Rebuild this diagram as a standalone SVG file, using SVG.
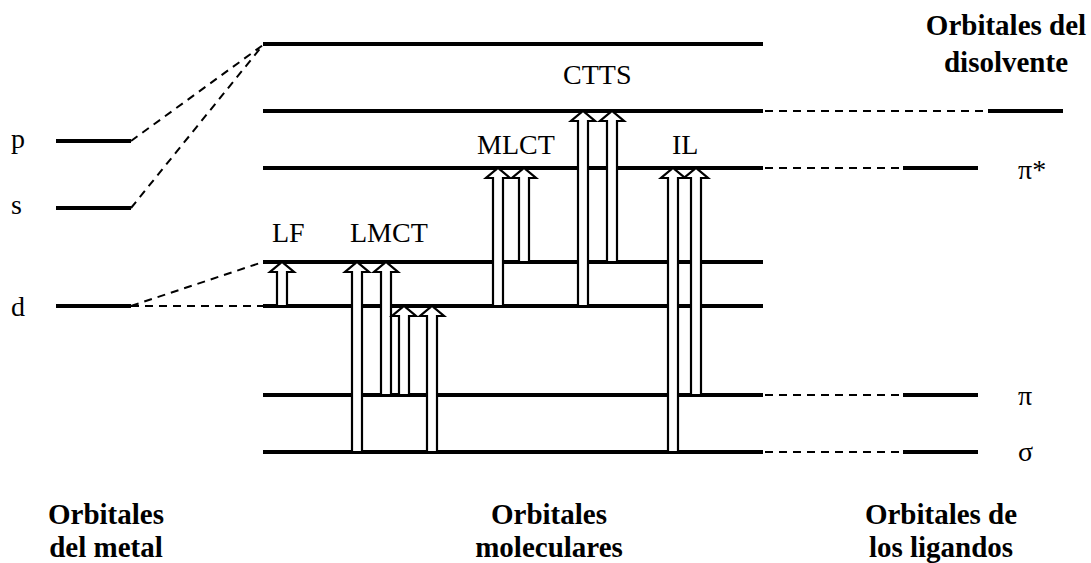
<svg xmlns="http://www.w3.org/2000/svg" width="1091" height="563" viewBox="0 0 1091 563">
<style>
.lvl{stroke:#000;stroke-width:4;fill:none}
.dash{stroke:#000;stroke-width:2;stroke-dasharray:8 6;fill:none}
.arr{fill:#fff;stroke:#000;stroke-width:2.2;stroke-linejoin:miter}
text{font-family:'Liberation Serif','Times New Roman',Tinos,'DejaVu Serif',serif}
.lab{font-size:28px;fill:#000}
.ttl{font-size:29px;font-weight:bold;fill:#000;text-anchor:middle}
</style>
<rect width="1091" height="563" fill="#fff"/>
<g id="metal">
<line class="lvl" x1="56" y1="141" x2="131" y2="141"/>
<line class="lvl" x1="56" y1="208" x2="131" y2="208"/>
<line class="lvl" x1="56" y1="306" x2="131" y2="306"/>
<text class="lab" x="11" y="148" font-family="Liberation Serif, serif">p</text>
<text class="lab" x="11" y="214" font-family="Liberation Serif, serif">s</text>
<text class="lab" x="11" y="316" font-family="Liberation Serif, serif">d</text>
</g>
<g id="molecular">
<line class="lvl" x1="263" y1="44" x2="763" y2="44"/>
<line class="lvl" x1="263" y1="111" x2="763" y2="111"/>
<line class="lvl" x1="263" y1="168" x2="763" y2="168"/>
<line class="lvl" x1="263" y1="262" x2="763" y2="262"/>
<line class="lvl" x1="263" y1="306" x2="763" y2="306"/>
<line class="lvl" x1="263" y1="395" x2="763" y2="395"/>
<line class="lvl" x1="263" y1="452" x2="763" y2="452"/>
</g>
<g id="ligands">
<line class="lvl" x1="903" y1="168" x2="978" y2="168"/>
<line class="lvl" x1="903" y1="395" x2="978" y2="395"/>
<line class="lvl" x1="903" y1="452" x2="978" y2="452"/>
<text class="lab" x="1018" y="179" font-family="Liberation Serif, serif">π*</text>
<text class="lab" x="1018" y="405" font-family="Liberation Serif, serif">π</text>
<text class="lab" x="1018" y="461" font-family="Liberation Serif, serif">σ</text>
</g>
<g id="solvent">
<line class="lvl" x1="988" y1="111" x2="1063" y2="111"/>
</g>
<g id="connectors">
<line class="dash" x1="131" y1="141" x2="263" y2="45"/>
<line class="dash" x1="131" y1="208" x2="263" y2="45"/>
<line class="dash" x1="131" y1="306" x2="263" y2="262"/>
<line class="dash" x1="131" y1="306" x2="263" y2="306"/>
<line class="dash" x1="765" y1="111" x2="988" y2="111"/>
<line class="dash" x1="765" y1="168" x2="903" y2="168"/>
<line class="dash" x1="765" y1="395" x2="903" y2="395"/>
<line class="dash" x1="765" y1="452" x2="903" y2="452"/>
</g>
<g id="transitions">
<path class="arr" d="M277,306 V272 H270 L282,262 L294,272 H287 V306 Z"/>
<path class="arr" d="M352,452 V272 H345 L357,262 L369,272 H362 V452 Z"/>
<path class="arr" d="M381,395 V272 H374 L386,262 L398,272 H391 V395 Z"/>
<path class="arr" d="M399,395 V316 H392 L404,306 L416,316 H409 V395 Z"/>
<path class="arr" d="M427,452 V316 H420 L432,306 L444,316 H437 V452 Z"/>
<path class="arr" d="M493,306 V178 H486 L498,168 L510,178 H503 V306 Z"/>
<path class="arr" d="M519,262 V178 H512 L524,168 L536,178 H529 V262 Z"/>
<path class="arr" d="M578,306 V121 H571 L583,111 L595,121 H588 V306 Z"/>
<path class="arr" d="M607,262 V121 H600 L612,111 L624,121 H617 V262 Z"/>
<path class="arr" d="M668,452 V178 H661 L673,168 L685,178 H678 V452 Z"/>
<path class="arr" d="M691,395 V178 H684 L696,168 L708,178 H701 V395 Z"/>
</g>
<g id="labels">
<text class="lab" x="272" y="242" font-family="Liberation Serif, serif">LF</text>
<text class="lab" x="350" y="242" font-family="Liberation Serif, serif">LMCT</text>
<text class="lab" x="477" y="154" font-family="Liberation Serif, serif">MLCT</text>
<text class="lab" x="563" y="84" font-family="Liberation Serif, serif">CTTS</text>
<text class="lab" x="672" y="154" font-family="Liberation Serif, serif">IL</text>
</g>
<g id="titles">
<text class="ttl" x="1006" y="35" font-family="Liberation Serif, serif">Orbitales del</text>
<text class="ttl" x="1006" y="72" font-family="Liberation Serif, serif">disolvente</text>
<text class="ttl" x="106" y="524" font-family="Liberation Serif, serif">Orbitales</text>
<text class="ttl" x="106" y="557" font-family="Liberation Serif, serif">del metal</text>
<text class="ttl" x="549" y="524" font-family="Liberation Serif, serif">Orbitales</text>
<text class="ttl" x="549" y="557" font-family="Liberation Serif, serif">moleculares</text>
<text class="ttl" x="941" y="524" font-family="Liberation Serif, serif">Orbitales de</text>
<text class="ttl" x="941" y="557" font-family="Liberation Serif, serif">los ligandos</text>
</g>
</svg>
